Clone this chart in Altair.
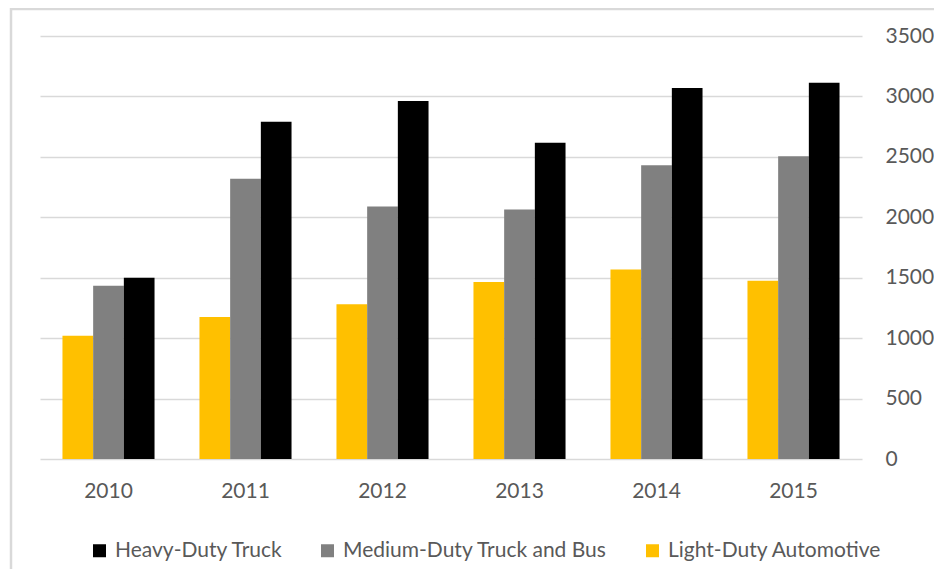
import altair as alt
import pandas as pd

years = ["2010", "2011", "2012", "2013", "2014", "2015"]
light = [1020, 1175, 1280, 1465, 1568, 1475]
medium = [1433, 2318, 2089, 2064, 2430, 2505]
heavy = [1500, 2790, 2963, 2616, 3070, 3114]

series_legend = ["Heavy-Duty Truck", "Medium-Duty Truck and Bus", "Light-Duty Automotive"]
series_order = ["Light-Duty Automotive", "Medium-Duty Truck and Bus", "Heavy-Duty Truck"]
colors = ["#000000", "#808080", "#FFC000"]

rows = []
for i, y in enumerate(years):
    rows.append({"year": y, "series": "Light-Duty Automotive", "value": light[i]})
    rows.append({"year": y, "series": "Medium-Duty Truck and Bus", "value": medium[i]})
    rows.append({"year": y, "series": "Heavy-Duty Truck", "value": heavy[i]})
df = pd.DataFrame(rows)

FONT = "Lato"
TXT = "#595959"
GRID = "#d9d9d9"

bars = alt.Chart(df).mark_bar().encode(
    x=alt.X("year:N", title=None, sort=years,
            scale=alt.Scale(paddingInner=0.328, paddingOuter=0.164),
            axis=alt.Axis(labelAngle=0, domain=False, ticks=False, labelPadding=21,
                          labelFontSize=21, labelColor=TXT, labelFont=FONT)),
    xOffset=alt.XOffset("series:N", sort=series_order,
                        scale=alt.Scale(domain=series_order, paddingInner=0, paddingOuter=0)),
    y=alt.Y("value:Q", title=None,
            scale=alt.Scale(domain=[0, 3500]),
            axis=alt.Axis(orient="right", values=[0, 500, 1000, 1500, 2000, 2500, 3000, 3500],
                          format="d", domain=False, ticks=False, labelPadding=23,
                          gridColor=GRID, gridWidth=1.5,
                          labelFontSize=21, labelColor=TXT, labelFont=FONT)),
    color=alt.Color("series:N", scale=alt.Scale(domain=series_legend, range=colors),
                    legend=alt.Legend(title=None, orient="none", legendX=49, legendY=504,
                                      direction="horizontal", symbolType="square", symbolSize=169,
                                      symbolStrokeWidth=0, labelFontSize=21, labelColor=TXT,
                                      labelFont=FONT, labelLimit=0, columnPadding=34,
                                      labelOffset=5, padding=0)),
)

border = alt.Chart(pd.DataFrame({"a": [0]})).mark_rect(
    fillOpacity=0, stroke=GRID, strokeWidth=2.5
).encode(x=alt.value(-29), x2=alt.value(1000), y=alt.value(-27), y2=alt.value(700))

chart = alt.layer(bars, border).properties(
    width=822, height=423,
    background="white",
    autosize=alt.AutoSizeParams(type="none"),
    padding={"left": 32, "top": 28, "right": 72, "bottom": 110},
).configure_view(strokeWidth=0, stroke="transparent")

chart.save("out.html", embed_options={"renderer": "svg", "actions": False})
